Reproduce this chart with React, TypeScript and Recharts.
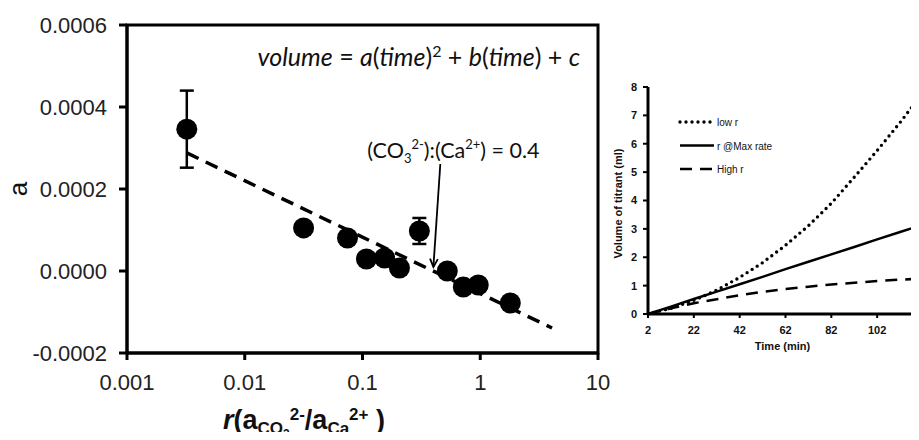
import React from 'react';
import {
  ScatterChart,
  Scatter,
  XAxis,
  YAxis,
  ErrorBar,
  ReferenceArea,
  ReferenceLine,
  LineChart,
  Line,
  Legend
} from 'recharts';

// main panel: fitted coefficient a against r (log axis)
const rValues = [0.00322, 0.0316, 0.0746, 0.108, 0.154, 0.206, 0.304, 0.525, 0.718, 0.962, 1.8];
const aValues = [0.000346, 0.000105, 0.0000805, 0.0000293, 0.0000317, 0.0000073, 0.0000976, 0.0, -0.000039, -0.0000341, -0.000078];
const aErrors = [0.000094, 0, 0, 0, 0, 0, 0.0000317, 0, 0, 0, 0];
const fitR = [0.00322, 4.07];
const fitA = [0.000288, -0.000139];
const rTicks = [0.001, 0.01, 0.1, 1, 10];
const aTicks = [-0.0002, 0, 0.0002, 0.0004, 0.0006];
const arrowR = [0.458, 0.4];
const arrowA = [0.000261, 0.00001];

// inset: volume of titrant against time
const timeMin = [2, 12, 22, 32, 42, 52, 62, 72, 82, 92, 102, 112, 122];
const lowR = [0, 0.2, 0.48, 0.84, 1.29, 1.81, 2.42, 3.11, 3.9, 4.82, 5.76, 6.75, 7.8];
const maxRateR = [0, 0.26, 0.53, 0.79, 1.05, 1.31, 1.58, 1.84, 2.1, 2.36, 2.63, 2.89, 3.15];
const highR = [0, 0.2, 0.38, 0.52, 0.66, 0.78, 0.88, 0.96, 1.04, 1.1, 1.16, 1.21, 1.25];
const timeTicks = [2, 22, 42, 62, 82, 102];
const volumeTicks = [0, 1, 2, 3, 4, 5, 6, 7, 8];

const points = rValues.map((r, i) => ({ r, a: aValues[i], err: aErrors[i] }));
const fitLine = fitR.map((r, i) => ({ r, a: fitA[i] }));
const volumeData = timeMin.map((t, i) => ({ t, low: lowR[i], max: maxRateR[i], high: highR[i] }));

const sans = '"Liberation Sans", Arial, sans-serif';
const calibriLike = 'Lato, "Open Sans", sans-serif';

const Dot = (props: any) => <circle cx={props.cx} cy={props.cy} r={10.5} fill="#000" />;

const EquationLabel = (props: any) => {
  const vb = props.viewBox;
  return (
    <text x={vb.x + vb.width - 18} y={vb.y + 41} textAnchor="end" fontFamily={calibriLike} fontSize={25} fill="#111" style={{ whiteSpace: 'pre' }}>
      <tspan fontStyle="italic">volume</tspan>
      <tspan> = </tspan>
      <tspan fontStyle="italic">a</tspan>
      <tspan>(</tspan>
      <tspan fontStyle="italic">time</tspan>
      <tspan>)</tspan>
      <tspan dy={-9} fontSize={16}>2</tspan>
      <tspan dy={9}> + </tspan>
      <tspan fontStyle="italic">b</tspan>
      <tspan>(</tspan>
      <tspan fontStyle="italic">time</tspan>
      <tspan>) + </tspan>
      <tspan fontStyle="italic">c</tspan>
    </text>
  );
};

const ArrowNote = (props: any) => {
  const { x1, y1, x2, y2 } = props;
  const ang = Math.atan2(y2 - y1, x2 - x1);
  const hx1 = x2 - 9 * Math.cos(ang - 0.45);
  const hy1 = y2 - 9 * Math.sin(ang - 0.45);
  const hx2 = x2 - 9 * Math.cos(ang + 0.45);
  const hy2 = y2 - 9 * Math.sin(ang + 0.45);
  return (
    <g>
      <line x1={x1} y1={y1} x2={x2} y2={y2} stroke="#000" strokeWidth={1.8} />
      <polyline points={`${hx1},${hy1} ${x2},${y2} ${hx2},${hy2}`} fill="none" stroke="#000" strokeWidth={1.8} />
      <text x={x1 - 73} y={y1 - 6} fontFamily={calibriLike} fontSize={21.5} fill="#111" style={{ whiteSpace: 'pre' }}>
        <tspan>(CO</tspan>
        <tspan dy={5} fontSize={13}>3</tspan>
        <tspan dy={-14} fontSize={13}>2-</tspan>
        <tspan dy={9}>):(Ca</tspan>
        <tspan dy={-9} fontSize={13}>2+</tspan>
        <tspan dy={9}>) = 0.4</tspan>
      </text>
    </g>
  );
};

const ALabel = (props: any) => {
  const vb = props.viewBox;
  const cx = vb.x + 18;
  const cy = vb.y + vb.height / 2;
  return (
    <text x={cx} y={cy} transform={`rotate(-90, ${cx}, ${cy})`} textAnchor="middle" dominantBaseline="central" fontFamily={sans} fontSize={26} fill="#111">
      a
    </text>
  );
};

const RLabel = (props: any) => {
  const vb = props.viewBox;
  return (
    <text x={vb.x + 96} y={vb.y + 76} fontFamily={sans} fontWeight="bold" fontSize={27} fill="#111">
      <tspan fontStyle="italic">r</tspan>
      <tspan>(a</tspan>
      <tspan dy={5} fontSize={17}>CO</tspan>
      <tspan dy={4} fontSize={12}>3</tspan>
      <tspan dy={-18} fontSize={17}>2-</tspan>
      <tspan dy={9}>/a</tspan>
      <tspan dy={5} fontSize={17}>Ca</tspan>
      <tspan dy={-14} fontSize={17}>2+</tspan>
      <tspan dy={9}> )</tspan>
    </text>
  );
};

const VolumeLabel = (props: any) => {
  const vb = props.viewBox;
  const cx = vb.x + 18;
  const cy = vb.y + vb.height / 2 + 3;
  return (
    <text x={cx} y={cy} transform={`rotate(-90, ${cx}, ${cy})`} textAnchor="middle" dominantBaseline="central" fontFamily={sans} fontWeight="bold" fontSize={11} fill="#111">
      Volume of titrant (ml)
    </text>
  );
};

const TimeLabel = (props: any) => {
  const vb = props.viewBox;
  return (
    <text x={vb.x + vb.width / 2 - 3} y={vb.y + 36} textAnchor="middle" fontFamily={sans} fontWeight="bold" fontSize={11} fill="#111">
      Time (min)
    </text>
  );
};

const legendRows = [
  { name: 'low r', dash: '0 6', cap: 'round' as const, width: 3.4 },
  { name: 'r @Max rate', dash: undefined, cap: 'butt' as const, width: 2.5 },
  { name: 'High r', dash: '12 8', cap: 'butt' as const, width: 2.5 }
];

const InsetLegend = () => (
  <svg width={130} height={62}>
    {legendRows.map((row, i) => (
      <g key={row.name}>
        <line x1={2} x2={36} y1={7 + i * 23.5} y2={7 + i * 23.5} stroke="#000" strokeWidth={row.width} strokeDasharray={row.dash} strokeLinecap={row.cap} />
        <text x={39} y={11 + i * 23.5} fontFamily={sans} fontSize={10} fill="#111">{row.name}</text>
      </g>
    ))}
  </svg>
);

const App = () => {
  return (
    <div style={{ position: 'relative', width: 919, height: 440, margin: -8, overflow: 'hidden', background: '#fff' }}>
      <div style={{ position: 'absolute', left: 0, top: 0, width: 919, height: 2, background: '#c4c4c4' }} />
      <div style={{ position: 'absolute', left: 0, top: 0 }}>
        <ScatterChart width={620} height={440} margin={{ top: 25, right: 22, bottom: 0, left: 0 }}>
          <XAxis
            dataKey="r"
            type="number"
            scale="log"
            domain={[0.001, 10]}
            ticks={rTicks}
            interval={0}
            allowDataOverflow
            height={87}
            tickSize={7}
            tickMargin={14}
            tickFormatter={(v) => String(v)}
            tick={{ fontSize: 22, fill: '#222', fontFamily: sans }}
            axisLine={{ stroke: '#000', strokeWidth: 3 }}
            tickLine={{ stroke: '#000', strokeWidth: 3 }}
            label={RLabel}
          />
          <YAxis
            dataKey="a"
            type="number"
            domain={[-0.0002, 0.0006]}
            ticks={aTicks}
            interval={0}
            width={127}
            tickSize={8}
            tickMargin={12}
            tickFormatter={(v) => v.toFixed(4)}
            tick={{ fontSize: 22, fill: '#222', fontFamily: sans }}
            axisLine={{ stroke: '#000', strokeWidth: 3 }}
            tickLine={{ stroke: '#000', strokeWidth: 3 }}
            label={ALabel}
          />
          <ReferenceArea x1={0.001} x2={10} y1={-0.0002} y2={0.0006} fill="none" stroke="#000" strokeWidth={3} label={EquationLabel} />
          <Scatter
            data={fitLine}
            line={{ stroke: '#000', strokeWidth: 3.5, strokeDasharray: '13 8' }}
            shape={() => <g />}
            isAnimationActive={false}
          />
          <Scatter data={points} shape={Dot} isAnimationActive={false}>
            <ErrorBar dataKey="err" direction="y" width={7} stroke="#000" strokeWidth={2.5} />
          </Scatter>
          <ReferenceLine
            segment={[{ x: arrowR[0], y: arrowA[0] }, { x: arrowR[1], y: arrowA[1] }]}
            shape={ArrowNote}
          />
        </ScatterChart>
      </div>
      <div style={{ position: 'absolute', left: 600, top: 70 }}>
        <LineChart width={340} height={295} data={volumeData} margin={{ top: 17, right: 17, bottom: 0, left: 0 }}>
          <XAxis
            dataKey="t"
            type="number"
            domain={[2, 122]}
            ticks={timeTicks}
            interval={0}
            height={51}
            tickSize={4}
            tickMargin={8}
            tick={{ fontSize: 11, fontWeight: 'bold', fill: '#111', fontFamily: sans }}
            axisLine={{ stroke: '#000', strokeWidth: 3 }}
            tickLine={{ stroke: '#000', strokeWidth: 2 }}
            label={TimeLabel}
          />
          <YAxis
            type="number"
            domain={[0, 8]}
            ticks={volumeTicks}
            interval={0}
            width={48}
            tickSize={5}
            tickMargin={6}
            tick={{ fontSize: 11, fontWeight: 'bold', fill: '#111', fontFamily: sans }}
            axisLine={{ stroke: '#000', strokeWidth: 3 }}
            tickLine={{ stroke: '#000', strokeWidth: 2 }}
            label={VolumeLabel}
          />
          <Legend
            layout="vertical"
            align="center"
            verticalAlign="middle"
            content={InsetLegend}
            wrapperStyle={{ left: 78, top: 45, width: 130 }}
          />
          <Line dataKey="low" name="low r" stroke="#000" strokeWidth={3.4} strokeDasharray="0 6" strokeLinecap="round" dot={false} isAnimationActive={false} />
          <Line dataKey="max" name="r @Max rate" stroke="#000" strokeWidth={2.5} dot={false} isAnimationActive={false} />
          <Line dataKey="high" name="High r" stroke="#000" strokeWidth={2.5} strokeDasharray="12 8" dot={false} isAnimationActive={false} />
        </LineChart>
      </div>
    </div>
  );
};

export default App;
